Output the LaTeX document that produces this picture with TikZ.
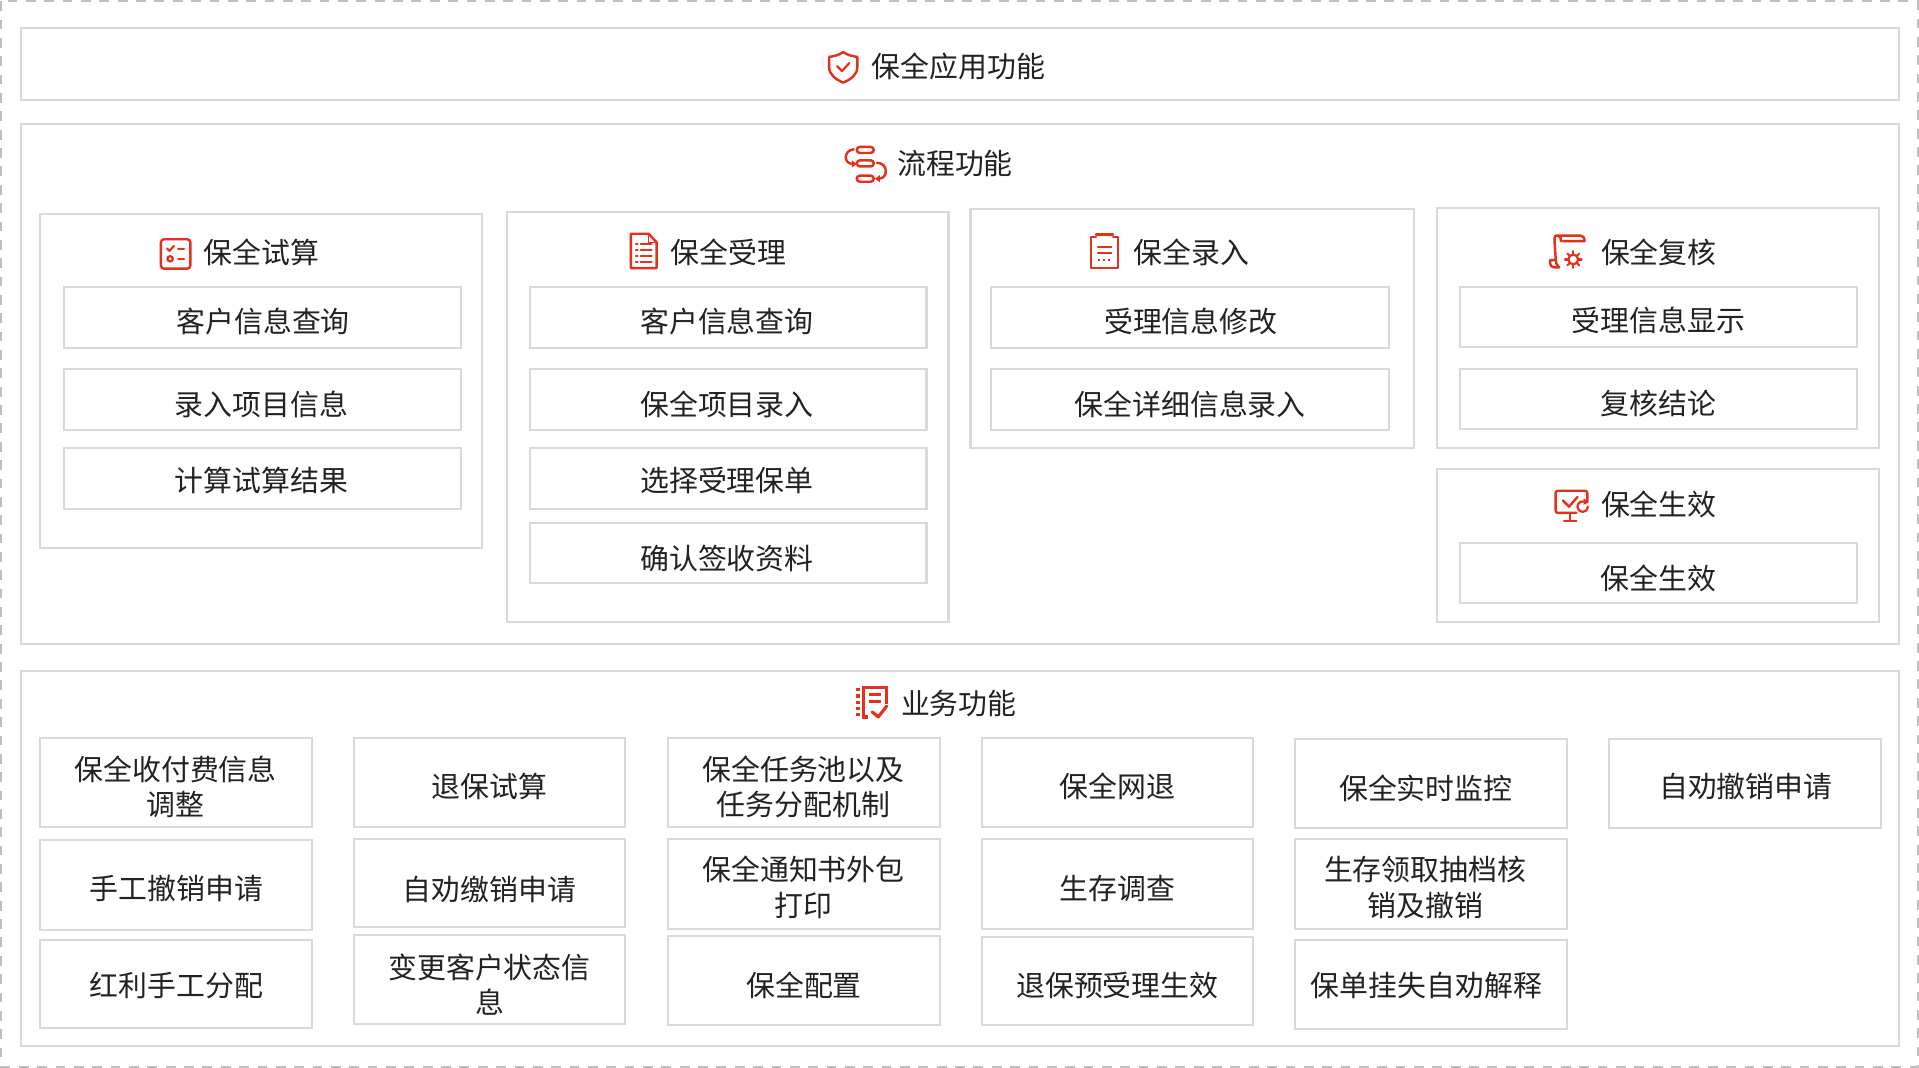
\documentclass[tikz,border=0pt]{standalone}
\usepackage{fontspec}
\setmainfont{Noto Sans CJK SC}
\usetikzlibrary{arrows.meta}
\definecolor{rimline}{HTML}{D9D9D9}
\definecolor{dashline}{HTML}{BFBFBF}
\definecolor{inkred}{HTML}{E5301E}
\definecolor{inktext}{HTML}{222222}
\newcommand{\ct}[3]{\hspace*{#1pt}\raisebox{-#2pt}[\height][\depth]{\begin{tabular}{@{}c@{}}#3\end{tabular}}\hspace*{-#1pt}}
\renewcommand{\arraystretch}{1.0}
\tikzset{
  x=1pt,y=-1pt,
  panel/.style={draw=rimline,line width=1.7pt,fill=white,anchor=north west,inner sep=0pt,outer sep=0pt},
  cell/.style={panel,yshift=-0.7pt,font=\fontsize{23.6pt}{29pt}\selectfont,text=inktext,align=center},
  title/.style={anchor=west,inner sep=0pt,font=\fontsize{23.6pt}{29pt}\selectfont,text=inktext},
  ic/.style={draw=inkred,line width=2pt,line cap=round,line join=round},
}
\begin{document}
\begin{tikzpicture}
\useasboundingbox (0,0) rectangle (1568,872.6);
\fill[white] (0,0) rectangle (1568,872.6);
\draw[dashline,line width=1.6pt,dash pattern=on 8pt off 7pt] (1,1) rectangle (1567,871.6);

% outer panels
\node[panel,minimum width=1535pt,minimum height=59pt] (top) at (17,23) {};
\node[panel,minimum width=1535pt,minimum height=425pt] (flow) at (17,101) {};
\node[panel,minimum width=1535pt,minimum height=307pt] (biz) at (17,548) {};

\node[title] (ttop) at (712,54.5) {保全应用功能};
\node[title] (tflow) at (733,134) {流程功能};
\node[title] (tbiz) at (736,574.5) {业务功能};

% process panels
\node[panel,minimum width=361pt,minimum height=273pt] (p1) at (33,175) {};
\node[panel,minimum width=361pt,minimum height=335pt] (p2) at (414,173) {};
\node[panel,minimum width=362pt,minimum height=195pt] (p3) at (793,171) {};
\node[panel,minimum width=361pt,minimum height=196pt] (p4) at (1174,170) {};
\node[panel,minimum width=361pt,minimum height=125pt] (p5) at (1174,383) {};

\node[title] (t1) at (166,206) {保全试算};
\node[title] (t2) at (548,206) {保全受理};
\node[title] (t3) at (926,206) {保全录入};
\node[title] (t4) at (1308,206) {保全复核};
\node[title] (t5) at (1308,412) {保全生效};

% process cells
\node[cell,minimum width=325pt,minimum height=50pt] (a1) at (52,234) {\ct{0.5}{6}{客户信息查询}};
\node[cell,minimum width=325pt,minimum height=50pt] (a2) at (52,301) {\ct{-1}{7}{录入项目信息}};
\node[cell,minimum width=325pt,minimum height=50pt] (a3) at (52,365) {\ct{-1}{5}{计算试算结果}};

\node[cell,minimum width=324pt,minimum height=50pt] (b1) at (433,234) {\ct{-1}{6}{客户信息查询}};
\node[cell,minimum width=324pt,minimum height=50pt] (b2) at (433,301) {\ct{-1}{7}{保全项目录入}};
\node[cell,minimum width=324pt,minimum height=50pt] (b3) at (433,365) {\ct{-1}{5}{选择受理保单}};
\node[cell,minimum width=324pt,minimum height=49pt] (b4) at (433,427) {\ct{-1}{7}{确认签收资料}};

\node[cell,minimum width=325pt,minimum height=50pt] (c1) at (810,234) {\ct{0.5}{6}{受理信息修改}};
\node[cell,minimum width=325pt,minimum height=50pt] (c2) at (810,301) {\ct{0}{7}{保全详细信息录入}};

\node[cell,minimum width=324pt,minimum height=49pt] (d1) at (1193,234) {\ct{0}{6}{受理信息显示}};
\node[cell,minimum width=324pt,minimum height=49pt] (d2) at (1193,301) {\ct{0}{7}{复核结论}};
\node[cell,minimum width=324pt,minimum height=49pt] (e1) at (1193,443) {\ct{0}{8}{保全生效}};

% business cells
\node[cell,minimum width=222pt,minimum height=73pt] (f1) at (33,602) {\ct{-0.5}{7}{保全收付费信息\\调整}};
\node[cell,minimum width=222pt,minimum height=73pt] (f2) at (33,686) {\ct{0}{6}{手工撤销申请}};
\node[cell,minimum width=222pt,minimum height=72pt] (f3) at (33,767) {\ct{0}{5}{红利手工分配}};
\node[cell,minimum width=222pt,minimum height=73pt] (g1) at (289,602) {\ct{0}{7}{退保试算}};
\node[cell,minimum width=222pt,minimum height=72pt] (g2) at (289,685) {\ct{0}{8}{自劝缴销申请}};
\node[cell,minimum width=222pt,minimum height=73pt] (g3) at (289,763) {\ct{0}{8}{变更客户状态信\\息}};
\node[cell,minimum width=222pt,minimum height=73pt] (h1) at (546,602) {\ct{-0.5}{7}{保全任务池以及\\任务分配机制}};
\node[cell,minimum width=222pt,minimum height=73pt] (h2) at (546,685) {\ct{-0.5}{6}{保全通知书外包\\打印}};
\node[cell,minimum width=222pt,minimum height=73pt] (h3) at (546,764) {\ct{0}{7}{保全配置}};
\node[cell,minimum width=222pt,minimum height=73pt] (i1) at (802,602) {\ct{0}{7}{保全网退}};
\node[cell,minimum width=222pt,minimum height=73pt] (i2) at (802,685) {\ct{0}{7}{生存调查}};
\node[cell,minimum width=222pt,minimum height=72pt] (i3) at (802,765) {\ct{0}{7}{退保预受理生效}};
\node[cell,minimum width=222pt,minimum height=73pt] (j1) at (1058,603) {\ct{-4}{7}{保全实时监控}};
\node[cell,minimum width=222pt,minimum height=73pt] (j2) at (1058,685) {\ct{-4.5}{6}{生存领取抽档核\\销及撤销}};
\node[cell,minimum width=222pt,minimum height=73pt] (j3) at (1058,767) {\ct{-3.5}{4}{保单挂失自劝解释}};
\node[cell,minimum width=222pt,minimum height=73pt] (k1) at (1315,603) {\ct{0.5}{6}{自劝撤销申请}};

% icon: shield
\begin{scope}[shift={(689,55)}]
\draw[ic] (0,-12.5) .. controls (3,-10) and (8,-9) .. (11.5,-8.5) -- (11.5,0) .. controls (11.5,6) and (6,10) .. (0,12.5) .. controls (-6,10) and (-11.5,6) .. (-11.5,0) -- (-11.5,-8.5) .. controls (-8,-9) and (-3,-10) .. cycle;
\draw[ic,line width=1.8pt] (-5,-1) -- (-1,3) -- (5,-3.5);
\end{scope}

% icon: flow
\begin{scope}[shift={(707,134)}]
\draw[ic,rounded corners=2.6pt] (-7,-14) rectangle (7,-9);
\draw[ic,rounded corners=2.6pt] (-7,-3) rectangle (7,2);
\draw[ic,rounded corners=2.6pt] (-7,9.5) rectangle (7,14.5);
\draw[ic] (-9.5,-12) .. controls (-18,-11) and (-18,0) .. (-10,0);
\fill[inkred] (-7,0) -- (-11,-3) -- (-11,3) -- cycle;
\draw[ic] (9.5,-1) .. controls (19,-1) and (19,12) .. (11,12);
\fill[inkred] (8,12) -- (12,9) -- (12,15) -- cycle;
\end{scope}

% icon: calc
\begin{scope}[shift={(143.5,207.5)}]
\draw[ic,rounded corners=2.5pt] (-12,-12) rectangle (12,12);
\draw[ic,line width=1.8pt] (-7,-4.5) -- (-5,-2.5) -- (-1.5,-6.5);
\draw[ic,line width=1.8pt] (2,-4) -- (7,-4);
\draw[ic,line width=1.8pt] (-4.5,4) circle (2.2);
\draw[ic,line width=1.8pt] (2,4) -- (7,4);
\end{scope}

% icon: page
\begin{scope}[shift={(526,205)}]
\draw[ic] (4,-14) -- (-10.5,-14) -- (-10.5,14) -- (10.5,14) -- (10.5,-7) -- cycle;
\draw[ic,line width=1.2pt] (4,-14) -- (4,-7) -- (10.5,-7);
\foreach \yy in {-6,-1,4,9}{
  \draw[ic,line width=1.7pt] (-6.5,\yy) -- (-5,\yy);
  \draw[ic,line width=1.7pt] (-2.5,\yy) -- (6.5,\yy);
}
\end{scope}

% icon: clipboard
\begin{scope}[shift={(902.5,205)}]
\draw[ic] (-7,-11.5) -- (-11,-11.5) -- (-11,14) -- (11,14) -- (11,-11.5) -- (7,-11.5);
\draw[ic] (-7,-13.5) -- (7,-13.5);
\draw[ic,line width=1.7pt] (-5.5,-3) -- (5.5,-3);
\draw[ic,line width=1.7pt] (-5.5,2) -- (5.5,2);
\draw[ic,line width=1.6pt,line cap=butt,dash pattern=on 1.6pt off 2.4pt] (-5.5,7.5) -- (5.5,7.5);
\end{scope}

% icon: scroll with gear
\begin{scope}[shift={(1281,206)}]
\draw[ic] (-10,-13.4) -- (10.4,-13.4) .. controls (12.6,-13.4) and (13.7,-12) .. (13.7,-9) -- (-4,-9);
\draw[ic] (-8,-13.4) .. controls (-6,-13.4) and (-5.5,-11) .. (-5.5,-9);
\draw[ic] (-10,-13.4) .. controls (-11,-13) and (-10.8,-11) .. (-10.8,-9) -- (-9.8,6.5) -- (-14.5,6.5) -- (-14.5,9) .. controls (-14.5,11) and (-13,12.5) .. (-11,12.5) -- (-7,12.5) .. controls (-9,11) and (-9.8,9) .. (-9.8,6.5);
\draw[ic,line width=1.8pt] (4.5,6) circle (4);
\foreach \aa in {0,45,...,315}{\draw[ic,line width=1.7pt] (4.5,6) ++(\aa:4) -- ++(\aa:2.8);}
\end{scope}

% icon: monitor
\begin{scope}[shift={(1284,413)}]
\draw[ic] (13,-3) -- (13,-10) .. controls (13,-11.5) and (12,-12) .. (11,-12) -- (-11,-12) .. controls (-12,-12) and (-13,-11.5) .. (-13,-10) -- (-13,4) .. controls (-13,5.5) and (-12,6) .. (-11,6) -- (4,6);
\draw[ic] (-1,6) -- (-1,12);
\draw[ic] (-6,12.5) -- (4,12.5);
\draw[ic] (-7,-4) -- (-2,1) -- (5,-7);
\draw[ic,line width=1.8pt] (13.5,1) arc (0:290:4.3);
\fill[inkred] (10,-6) -- (14,-2.5) -- (10,-0.5) -- cycle;
\end{scope}

% icon: task list
\begin{scope}[shift={(712.2,573.5)}]
\foreach \yy in {-10,-4.9,0.3,5.4,10.4}{\fill[inkred] (-12.9,\yy-1.4) rectangle (-9.6,\yy+1.4);}
\draw[ic,line cap=butt,line join=miter,line width=2.6pt] (-2.7,12.3) -- (-6.5,12.3) -- (-6.5,-12) -- (12.3,-12) -- (12.3,1.4);
\draw[ic,line cap=butt,line width=2.2pt] (-2.2,-6) -- (7.6,-6);
\draw[ic,line cap=butt,line width=2.2pt] (-2.2,-0.5) -- (7.6,-0.5);
\draw[ic,line width=2.6pt] (0.5,8.2) -- (5.4,12.3) -- (12.3,3.5);
\end{scope}
\end{tikzpicture}
\end{document}
